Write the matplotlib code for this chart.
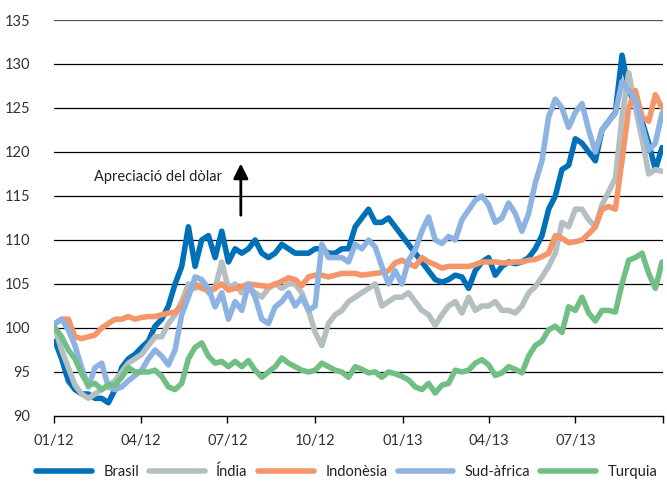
import pandas as pd
import numpy as np
import matplotlib
matplotlib.use('Agg')
import matplotlib.pyplot as plt

plt.rcParams['font.family'] = ['Lato', 'DejaVu Sans']

# Dades setmanals (índex, 01/12 = 100 aprox.), llegides del gràfic
dates = pd.date_range('2012-01-02', periods=92, freq='7D')

brasil = [98.5, 96.5, 94, 93, 92.5, 92.5, 92, 92, 91.5, 93,
          95.5, 96.5, 97, 97.8, 98.5, 100.2, 101, 102.5, 105, 107,
          111.5, 107, 110, 110.5, 108, 111, 107.5, 109, 108.5, 109,
          110, 108.5, 108, 108.5, 109.5, 109, 108.5, 108.5, 108.5, 109,
          109, 108.5, 108.5, 109, 109, 111.5, 112.5, 113.5, 112, 112,
          112.5, 111.5, 110.5, 109.5, 108.5, 107.5, 106.5, 105.5, 105.2, 105.5,
          106, 105.8, 104.5, 106.5, 107.5, 108, 106, 107, 107.5, 107.3,
          107.5, 108, 109, 110.5, 113.5, 115, 118, 118.5, 121.5, 121,
          120, 119, 122.5, 123.5, 124.5, 131, 127, 125.5, 123.5, 121,
          118, 120.5]

india = [100, 97.5, 95.5, 93.5, 92.5, 92, 92.5, 93, 93.5, 94,
         95, 96, 96.5, 97, 98, 99, 99, 100.5, 101.5, 103,
         105, 104.5, 105, 104, 104.5, 107.5, 104.5, 105, 104, 104.5,
         104, 103.5, 104.5, 105, 104.5, 105, 105, 104, 102, 99.5,
         98, 100.5, 101.5, 102, 103, 103.5, 104, 104.5, 105, 102.5,
         103, 103.5, 103.5, 104, 103, 102, 101.5, 100.3, 101.5, 102.5,
         103, 101.7, 103.5, 102, 102.5, 102.5, 103, 102, 102, 101.7,
         102.5, 104, 104.7, 105.8, 107, 108.5, 112, 111.5, 113.5, 113.5,
         112.3, 111.5, 114, 115.5, 117, 124, 129, 125, 121.5, 117.5,
         118, 117.8]

indonesia = [100.5, 101, 101, 99, 98.8, 99, 99.2, 100, 100.5, 101,
             101, 101.3, 101, 101.2, 101.3, 101.3, 101.5, 101.7, 101.8, 102.5,
             104, 105, 104.5, 104.3, 104.5, 105, 104.3, 104.5, 104.7, 105,
             104.9, 104.8, 104.7, 105, 105.3, 105.7, 105.5, 104.8, 105.8, 106,
             106, 105.8, 106, 106.2, 106.2, 106.2, 106, 106.1, 106.2, 106.3,
             106.5, 107.4, 107.7, 107.3, 107, 108, 107.5, 107.2, 106.8, 107,
             107, 107, 107, 107.2, 107.5, 107.5, 107.5, 107.4, 107.4, 107.5,
             107.5, 107.7, 107.8, 108.1, 108.5, 110.5, 110.2, 109.7, 109.8, 110,
             110.7, 111.5, 113.5, 113.8, 113.5, 119, 125, 127, 124, 123.5,
             126.5, 125]

sudafrica = [100.5, 101, 99.8, 98, 95.5, 93.3, 95.5, 96, 93.3, 93,
             93.3, 94, 94.6, 95.2, 96.5, 97.5, 96.8, 95.8, 97.5, 101.5,
             103.5, 105.8, 105.5, 104.5, 102.4, 104, 101, 103, 102, 105,
             103.5, 101, 100.5, 102.4, 103, 104, 102.5, 103.5, 102, 102.5,
             109.5, 108, 108, 108, 107.5, 109.5, 109, 110, 109.2, 107,
             105, 106.5, 105, 107.7, 108.9, 111, 112.6, 110, 109.6, 110.4,
             110, 112.3, 113.4, 114.5, 115, 114, 112, 112.5, 114.2, 113,
             111, 113, 116.5, 119, 124, 126, 125, 122.8, 124.5, 125.5,
             122.5, 120, 122.5, 123.5, 124.4, 128, 127, 126, 123, 120.2,
             121, 124.4]

turquia = [100, 99, 97.5, 96.5, 94.8, 93.5, 93.7, 93, 93.5, 93.5,
           94.4, 95.5, 95, 95, 95, 95.2, 94.5, 93.3, 93, 93.7,
           96.5, 97.8, 98.3, 96.8, 96, 96.2, 95.6, 96.2, 95.6, 96.3,
           95.2, 94.4, 95, 95.6, 96.6, 96, 95.6, 95.2, 95, 95.2,
           96, 95.6, 95.2, 95, 94.4, 95.6, 95.3, 94.9, 95, 94.4,
           95, 94.8, 94.5, 94.1, 93.3, 93, 93.7, 92.6, 93.5, 93.7,
           95.2, 95, 95.2, 96, 96.4, 95.8, 94.6, 94.9, 95.6, 95.3,
           94.9, 96.8, 98, 98.5, 99.8, 100.2, 99.5, 102.4, 102, 103.5,
           101.7, 100.8, 102, 102, 101.8, 105, 107.7, 108, 108.5, 106.2,
           104.5, 107.5]

names = ['Brasil', 'Índia', 'Indonèsia', 'Sud-àfrica', 'Turquia']
colors = ['#0070B8', '#B4BFC2', '#F4956A', '#8DB3E2', '#72BF85']
series = [brasil, india, indonesia, sudafrica, turquia]

tick_dates = pd.to_datetime(['2012-01-01', '2012-04-01', '2012-07-01', '2012-10-01',
                             '2013-01-01', '2013-04-01', '2013-07-01', '2013-10-01'])
tick_labels = ['01/12', '04/12', '07/12', '10/12', '01/13', '04/13', '07/13', '']

fig = plt.figure(figsize=(6.67, 4.82), dpi=100)
ax = fig.add_axes([0.081, 0.137, 0.913, 0.8215])

for vals, name, col in zip(series, names, colors):
    ax.plot(dates, vals, color=col, lw=4.0, label=name, solid_capstyle='round')

ax.set_ylim(90, 135)
ax.set_xlim(tick_dates[0], tick_dates[-1])
ax.set_yticks(np.arange(90, 136, 5))
ax.set_xticks(tick_dates)
ax.set_xticklabels(tick_labels)

for v in range(95, 136, 5):
    ax.axhline(v, color='#555555' if v == 135 else 'black', lw=0.9, zorder=0)

for s in ['top', 'left', 'right']:
    ax.spines[s].set_visible(False)
ax.spines['bottom'].set_linewidth(1.0)
ax.tick_params(axis='y', length=0, pad=17, labelsize=10.5, labelcolor='#333333')
ax.tick_params(axis='x', length=5, width=1, pad=8, labelsize=10.5, labelcolor='#333333')

# fletxa i text
ax.annotate('', xy=(pd.Timestamp('2012-07-15'), 119.0), xytext=(pd.Timestamp('2012-07-15'), 112.5),
            arrowprops=dict(arrowstyle='-|>', color='black', lw=2.0, mutation_scale=22))
ax.text(pd.Timestamp('2012-06-25'), 117.2, 'Apreciació del dòlar', ha='right', va='center',
        fontsize=10.5, color='#222222')

fig.legend(loc='lower center', ncol=5, frameon=False, fontsize=10.5, bbox_to_anchor=(0.52, -0.022),
           handlelength=3.8, handletextpad=0.8, columnspacing=0.7)
for t in fig.legends[0].get_texts():
    t.set_color('#222222')

plt.savefig('out.png', dpi=100)
